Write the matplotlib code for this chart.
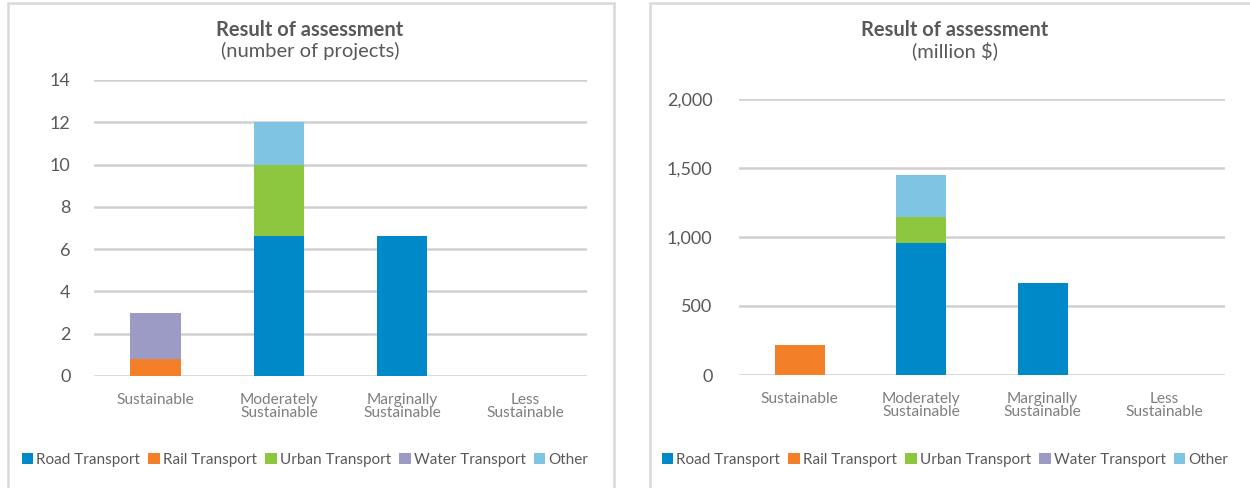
import matplotlib.pyplot as plt
from matplotlib.patches import Rectangle, Patch
from matplotlib.ticker import FuncFormatter

plt.rcParams['font.family'] = ['Lato', 'DejaVu Sans']

categories = ["Sustainable", "Moderately\nSustainable", "Marginally\nSustainable", "Less\nSustainable"]
series = ["Road Transport", "Rail Transport", "Urban Transport", "Water Transport", "Other"]
colors = ["#0089c8", "#f47f29", "#8dc63f", "#9c9bc6", "#80c4e3"]

# number of projects, per series, per category
count_road = [0, 6.6, 6.6, 0]
count_rail = [0.8, 0, 0, 0]
count_urban = [0, 3.4, 0, 0]
count_water = [2.2, 0, 0, 0]
count_other = [0, 2.0, 0, 0]

# million $
usd_road = [0, 958, 668, 0]
usd_rail = [215, 0, 0, 0]
usd_urban = [0, 184, 0, 0]
usd_water = [5, 0, 0, 0]
usd_other = [0, 310, 0, 0]

count_ticks = [0, 2, 4, 6, 8, 10, 12, 14]
usd_ticks = [0, 500, 1000, 1500, 2000]

TXT = "#595959"
GRID = "#d0d0d0"

fig = plt.figure(figsize=(12.5, 4.88), dpi=100)
W, H = 1250, 488


def fx(px):
    return px / W


def fy(py):
    return 1 - py / H


# panel frames
for x0, x1 in [(8, 614), (650, 1262)]:
    fig.patches.append(Rectangle((fx(x0), fy(500)), fx(x1 - x0), (500 - 3) / H,
                                 transform=fig.transFigure, fill=False,
                                 edgecolor="#d9d9d9", lw=1.8, zorder=0))


def draw(ax, stacks, ticks, fmt, pad, ysize):
    bottom = [0] * len(categories)
    x = list(range(len(categories)))
    for vals, c in zip(stacks, colors):
        ax.bar(x, vals, bottom=bottom, width=0.41, color=c, zorder=3)
        bottom = [b + v for b, v in zip(bottom, vals)]
    ax.set_xlim(-0.5, 3.5)
    ax.set_ylim(0, ticks[-1])
    ax.set_yticks(ticks)
    ax.yaxis.set_major_formatter(FuncFormatter(fmt))
    ax.grid(axis="y", color=GRID, lw=1.8, zorder=0)
    ax.set_axisbelow(True)
    for s in ax.spines.values():
        s.set_visible(False)
    ax.tick_params(axis="y", length=0, pad=pad, labelsize=ysize, labelcolor=TXT)
    ax.tick_params(axis="x", length=0, pad=12, labelcolor="#7f7f7f")
    ax.set_xticks(x)
    ax.set_xticklabels(categories, fontsize=11.2, linespacing=0.95, va="top")
    ax.patch.set_visible(False)


ax1 = fig.add_axes([fx(94), fy(376), fx(493), (376 - 80) / H])
draw(ax1, [count_road, count_rail, count_urban, count_water, count_other],
     count_ticks, lambda v, p: f"{int(v)}", 17, 13)

ax2 = fig.add_axes([fx(739), fy(375), fx(486), (375 - 99) / H])
draw(ax2, [usd_road, usd_rail, usd_urban, usd_water, usd_other],
     usd_ticks, lambda v, p: f"{int(v):,}", 19, 13)

# titles
for cx, sub in [(310, "(number of projects)"), (955, "(million $)")]:
    fig.text(fx(cx), fy(30), "Result of assessment", ha="center", va="center",
             fontsize=14.5, fontweight="bold", color=TXT)
    fig.text(fx(cx), fy(51), sub, ha="center", va="center", fontsize=14.5, color=TXT)

handles = [Patch(facecolor=c, edgecolor="none") for c in colors]
for cx in [305, 945]:
    fig.legend(handles, series, loc="center", bbox_to_anchor=(fx(cx), fy(460)),
               ncol=5, frameon=False, fontsize=11, handlelength=0.75, handleheight=0.75,
               handletextpad=0.2, columnspacing=0.55, labelcolor=TXT)

fig.savefig("out.png", dpi=100)
